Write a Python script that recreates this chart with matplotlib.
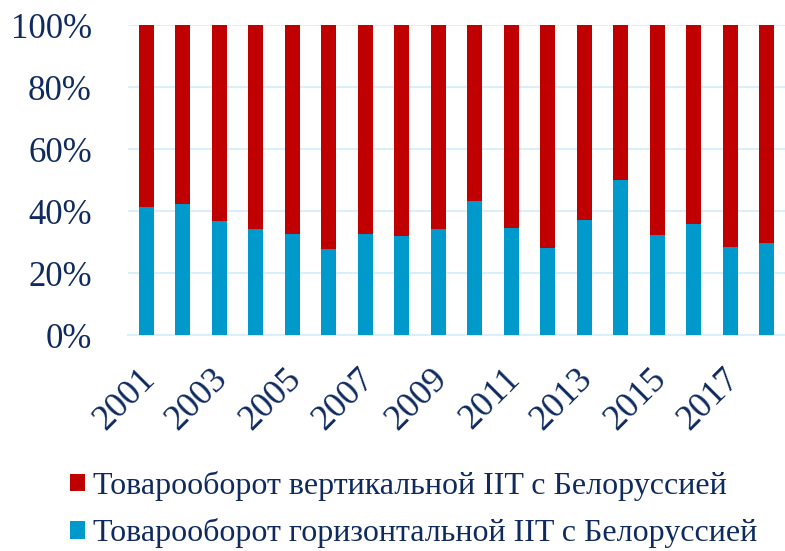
import matplotlib
matplotlib.use("Agg")
import matplotlib.pyplot as plt
import matplotlib.transforms as mtransforms
from matplotlib.patches import Patch
from matplotlib.ticker import FuncFormatter
import numpy as np

years = [str(y) for y in range(2001, 2019)]
horizontal = [41.2, 42.2, 36.8, 34.2, 32.5, 27.6, 32.7, 31.8, 34.2,
              43.2, 34.6, 28.1, 37.0, 49.9, 32.3, 35.8, 28.4, 29.7]
vertical = [100 - h for h in horizontal]
series_names = ["Товарооборот вертикальной IIT с Белоруссией",
                "Товарооборот горизонтальной IIT с Белоруссией"]

RED = "#C00000"
BLUE = "#0099CC"
TXT = "#0E2A5E"
GRID = "#D9EFF9"

plt.rcParams['font.family'] = ['Liberation Serif', 'DejaVu Serif']

fig = plt.figure(figsize=(7.85, 5.51), dpi=100)
ax = fig.add_axes([128/785, 1 - 335/551, 657/785, 310/551])

x = np.arange(len(years))
ax.bar(x, horizontal, width=0.4, color=BLUE, zorder=3)
ax.bar(x, vertical, width=0.4, bottom=horizontal, color=RED, zorder=3)

ax.set_xlim(-0.5, len(years) - 0.5)
ax.set_ylim(0, 100)
ax.set_yticks(np.arange(0, 101, 20))
ax.yaxis.set_major_formatter(FuncFormatter(lambda v, p: f"{int(v)}%"))
ax.grid(axis='y', color=GRID, linewidth=1.5, zorder=0)
for s in ['top', 'right', 'left']:
    ax.spines[s].set_visible(False)
ax.spines['bottom'].set_color(GRID)
ax.spines['bottom'].set_linewidth(1.5)
ax.tick_params(axis='both', length=0, colors=TXT)
ax.tick_params(axis='y', pad=26, labelsize=25)

ax.set_xticks(x[::2])
ax.set_xticklabels(years[::2], rotation=45, ha='right', va='top',
                   rotation_mode='anchor', color=TXT, fontsize=26)
offset = mtransforms.ScaledTranslation(-8/100, -22/100, fig.dpi_scale_trans)
for lab in ax.get_xticklabels():
    lab.set_transform(lab.get_transform() + offset)

handles = [Patch(facecolor=RED, edgecolor='none'),
           Patch(facecolor=BLUE, edgecolor='none')]
leg = fig.legend(handles, series_names, loc='upper left',
                 bbox_to_anchor=(57/785, 1 - 458/551), frameon=False,
                 fontsize=23, handlelength=0.47, handleheight=0.47,
                 handletextpad=0.27, labelspacing=0.55, borderaxespad=0)
for t in leg.get_texts():
    t.set_color(TXT)

fig.savefig("out.png", dpi=100)
